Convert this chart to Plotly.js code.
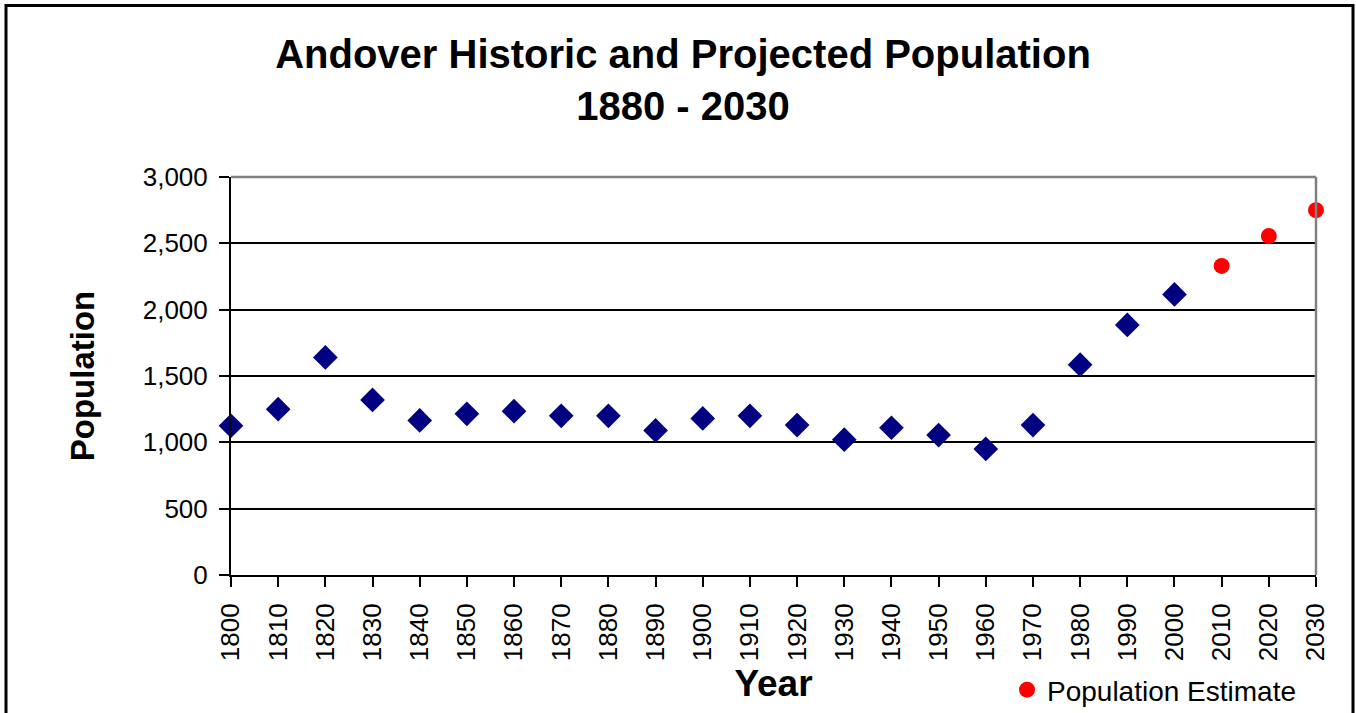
<!DOCTYPE html>
<html>
<head>
<meta charset="utf-8">
<script src="https://cdn.plot.ly/plotly-3.0.1.min.js"></script>
<style>html,body{margin:0;padding:0;background:#fff;}#chart{width:1356px;height:713px;}</style>
</head>
<body>
<div id="chart"></div>
<script>
// Historic census (blue diamonds)
const historicYears = [1800,1810,1820,1830,1840,1850,1860,1870,1880,1890,1900,1910,1920,1930,1940,1950,1960,1970,1980,1990,2000];
const historicPop   = [1125,1250,1640,1320,1165,1215,1235,1200,1200,1090,1180,1200,1130,1020,1110,1055,950,1130,1585,1885,2115];
// Projected (red dots)
const estimateYears = [2010,2020,2030];
const estimatePop   = [2330,2555,2750];
const tickYears = [1800,1810,1820,1830,1840,1850,1860,1870,1880,1890,1900,1910,1920,1930,1940,1950,1960,1970,1980,1990,2000,2010,2020,2030];
const yTicks = [0,500,1000,1500,2000,2500,3000];

const W = 1356, H = 713;
const M = {l:231, r:40, t:177, b:138, autoexpand: false};
const pw = W - M.l - M.r, ph = H - M.t - M.b;
const px = x => (x - M.l) / pw;
const py = y => (H - M.b - y) / ph;

const font = "Liberation Sans, Arial, sans-serif";

const traces = [
  {
    x: historicYears, y: historicPop, type: 'scatter', mode: 'markers',
    name: 'Population', showlegend: false, cliponaxis: false,
    marker: {symbol: 'diamond', size: 19, color: '#000080'}
  },
  {
    x: estimateYears, y: estimatePop, type: 'scatter', mode: 'markers',
    name: 'Population Estimate', showlegend: true, cliponaxis: false,
    marker: {symbol: 'circle', size: 16, color: '#FF0000'}
  }
];

const layout = {
  width: W, height: H,
  margin: M,
  paper_bgcolor: '#fff', plot_bgcolor: '#fff',
  font: {family: font, color: '#000'},
  title: {
    text: '<b>Andover Historic and Projected Population<br>1880 - 2030</b>',
    font: {family: font, size: 40, color: '#000'},
    x: 683 / W, xref: 'container', xanchor: 'center',
    y: 1 - 68 / H, yref: 'container', yanchor: 'top'
  },
  xaxis: {
    range: [1800, 2030], tickvals: tickYears, ticktext: tickYears.map(String),
    tickangle: -90, tickfont: {family: font, size: 26, color: '#000'},
    ticks: 'outside', ticklen: 10, tickwidth: 2, tickcolor: '#000',
    ticklabelstandoff: 6,
    showgrid: false, zeroline: false, automargin: false,
    showline: true, linecolor: '#000', linewidth: 2,
    title: {text: '<b>Year</b>', font: {family: font, size: 37, color: '#000'}, standoff: 10}
  },
  yaxis: {
    range: [0, 3000], tickvals: yTicks, tickformat: ',',
    tickfont: {family: font, size: 26, color: '#000'},
    ticks: 'outside', ticklen: 10, tickwidth: 2, tickcolor: '#000',
    ticklabelstandoff: 6,
    showgrid: true, gridcolor: '#000', gridwidth: 2,
    zeroline: false, showline: true, linecolor: '#000', linewidth: 2, automargin: false,
    title: {text: '<b>Population</b>', font: {family: font, size: 33, color: '#000'}, standoff: 38}
  },
  legend: {
    x: px(1007), xanchor: 'left', y: py(690), yanchor: 'middle',
    font: {family: font, size: 28, color: '#000'},
    bgcolor: 'rgba(0,0,0,0)', borderwidth: 0
  },
  showlegend: true,
  shapes: [
    {type: 'line', xref: 'paper', yref: 'paper', x0: 0, x1: 1, y0: 1, y1: 1, line: {color: '#808080', width: 2.5}},
    {type: 'line', xref: 'paper', yref: 'paper', x0: 1, x1: 1, y0: 0, y1: 1, line: {color: '#808080', width: 2.5}},
    {type: 'rect', xref: 'paper', yref: 'paper', x0: px(6), x1: px(1353), y0: py(5.5), y1: py(725), line: {color: '#000', width: 3}, layer: 'below'}
  ]
};

Plotly.newPlot('chart', traces, layout, {displayModeBar: false, staticPlot: true});
</script>
</body>
</html>
